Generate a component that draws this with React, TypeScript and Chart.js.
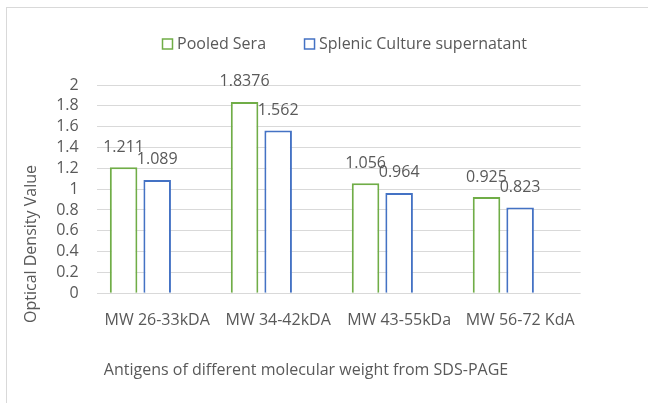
import React, { useEffect, useRef } from "react";
import { Chart, registerables } from "chart.js";

Chart.register(...registerables);

const categories = ["MW 26-33kDA", "MW 34-42kDA", "MW 43-55kDa", "MW 56-72 KdA"];
const pooledSera = [1.211, 1.8376, 1.056, 0.925];
const splenicSupernatant = [1.089, 1.562, 0.964, 0.823];
const seriesNames = ["Pooled Sera", "Splenic Culture supernatant"];
const seriesColors = ["#70AD47", "#4472C4"];
const yTickValues = [0, 0.2, 0.4, 0.6, 0.8, 1, 1.2, 1.4, 1.6, 1.8, 2];
const xTitle = "Antigens of different molecular weight from SDS-PAGE";
const yTitle = "Optical Density Value";

const FONT = "'Open Sans', 'DejaVu Sans', sans-serif";
const TEXT = "#595959";
const GRID = "#D9D9D9";

const decorPlugin = {
  id: "decor",
  beforeDraw(chart: any) {
    const ctx = chart.ctx;
    ctx.save();
    ctx.fillStyle = "#ffffff";
    ctx.fillRect(0, 0, chart.width, chart.height);
    ctx.strokeStyle = GRID;
    ctx.lineWidth = 1;
    ctx.strokeRect(6.5, 7.5, chart.width + 20, chart.height + 20);
    ctx.restore();
  },
  afterDraw(chart: any) {
    const ctx = chart.ctx;
    ctx.save();
    ctx.font = `16px ${FONT}`;
    ctx.fillStyle = TEXT;
    // data labels
    [0, 1].forEach((di) => {
      const meta = chart.getDatasetMeta(di);
      const ds = chart.data.datasets[di];
      meta.data.forEach((el: any, j: number) => {
        const v = ds.data[j];
        ctx.textAlign = "center";
        ctx.textBaseline = "middle";
        ctx.fillText(String(v), el.x, el.y - 20);
      });
    });
    // legend
    let x = 162;
    const ly = 44;
    seriesNames.forEach((name, i) => {
      ctx.strokeStyle = seriesColors[i];
      ctx.lineWidth = 1.5;
      ctx.strokeRect(x + 0.5, ly - 5, 10, 10);
      ctx.fillStyle = TEXT;
      ctx.textAlign = "left";
      ctx.textBaseline = "middle";
      ctx.fillText(name, x + 15, ly);
      x += 15 + ctx.measureText(name).width + 38;
    });
    // axis titles
    ctx.fillStyle = TEXT;
    ctx.textAlign = "center";
    ctx.textBaseline = "middle";
    ctx.fillText(xTitle, 306, 370);
    ctx.translate(31.5, 244);
    ctx.rotate(-Math.PI / 2);
    ctx.fillText(yTitle, 0, 0);
    ctx.restore();
  },
};

export default function App() {
  const ref = useRef<HTMLCanvasElement | null>(null);
  useEffect(() => {
    document.body.style.margin = "0";
    const canvas = ref.current!;
    const chart = new Chart(canvas, {
      type: "bar",
      data: {
        labels: categories,
        datasets: [
          {
            label: seriesNames[0],
            data: pooledSera,
            backgroundColor: "#ffffff",
            borderColor: seriesColors[0],
            borderWidth: 2,
            barPercentage: 0.82,
            categoryPercentage: 0.833,
          },
          {
            label: seriesNames[1],
            data: splenicSupernatant,
            backgroundColor: "#ffffff",
            borderColor: seriesColors[1],
            borderWidth: 2,
            barPercentage: 0.82,
            categoryPercentage: 0.833,
          },
          {
            label: "",
            data: categories.map(() => null),
            barPercentage: 0.82,
            categoryPercentage: 0.833,
          },
        ],
      },
      options: {
        responsive: false,
        animation: false,
        layout: { padding: { left: 0, right: 67.4, top: 85, bottom: 0 } },
        font: { family: FONT, size: 16 },
        plugins: {
          legend: { display: false },
          tooltip: { enabled: false },
        },
        scales: {
          x: {
            grid: { display: false, drawTicks: false },
            border: { display: false },
            ticks: { color: TEXT, font: { family: FONT, size: 16 }, padding: 18, maxRotation: 0, autoSkip: false },
            afterFit: (s: any) => {
              s.height = 109.7;
            },
          },
          y: {
            min: 0,
            max: 2,
            grid: { color: GRID, lineWidth: 1, drawTicks: false },
            border: { display: false },
            afterBuildTicks: (s: any) => {
              s.ticks = yTickValues.map((v) => ({ value: v }));
            },
            ticks: {
              color: TEXT,
              font: { family: FONT, size: 16 },
              padding: 18,
              autoSkip: false,
              callback: (v: any) => String(Number(Number(v).toFixed(1))),
            },
            afterFit: (s: any) => {
              s.width = 96.7;
            },
          },
        },
      } as any,
      plugins: [decorPlugin],
    });
    return () => chart.destroy();
  }, []);
  return (
    <div style={{ position: "absolute", left: 0, top: 0, width: 648, height: 403 }}>
      <canvas ref={ref} width={648} height={403} />
    </div>
  );
}
